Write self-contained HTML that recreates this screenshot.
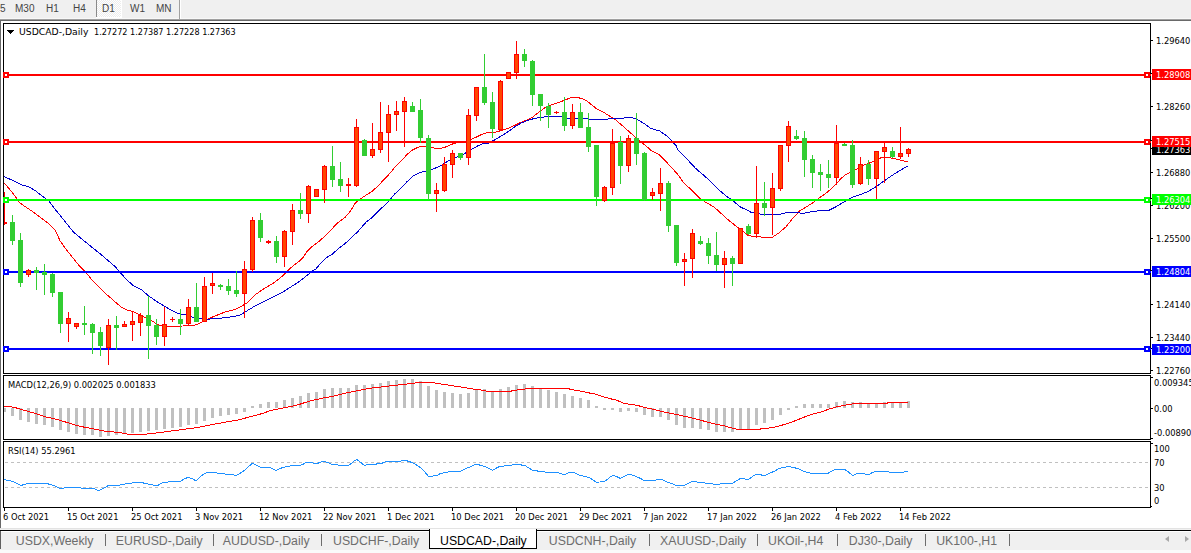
<!DOCTYPE html>
<html><head><meta charset="utf-8"><title>USDCAD-,Daily</title>
<style>
html,body{margin:0;padding:0;}
body{width:1191px;height:553px;overflow:hidden;background:#f0f0f0;position:relative;font-family:'Liberation Sans', Arial, sans-serif;}
.tb{position:absolute;left:0;top:0;width:1191px;height:18px;background:#f0f0f0;z-index:2;}
.tb span{position:absolute;top:3px;font-size:10px;color:#444;line-height:12px;}
.win{position:absolute;left:0;top:18px;width:1191px;height:512px;background:#fff;}
.tabs{position:absolute;left:0;top:530px;width:1191px;height:23px;}
.tab{position:absolute;top:3px;font-size:12.3px;color:#6d6d6d;line-height:16px;white-space:nowrap;}
.sep{position:absolute;top:534px;width:1px;height:12px;background:#6d6d6d;}
svg{position:absolute;left:0;top:0;}
</style></head><body>
<div class="tb">
<span style="left:0px">5</span><span style="left:15px">M30</span><span style="left:46px">H1</span><span style="left:73px">H4</span>
<div style="position:absolute;left:96px;top:0;width:1px;height:17px;background:#8a8a8a;"></div><div style="position:absolute;left:97px;top:0;width:24px;height:17px;background:repeating-conic-gradient(#fff 0 25%,#ececec 0 50%) 0 0/2px 2px;"></div><div style="position:absolute;left:121px;top:0;width:1px;height:18px;background:#fff;"></div><div style="position:absolute;left:96px;top:17px;width:26px;height:1px;background:#fff;"></div>
<span style="left:102px">D1</span><span style="left:130px">W1</span><span style="left:156px">MN</span>
<div style="position:absolute;left:179px;top:0;width:1px;height:19px;background:#a0a0a0;"></div><div style="position:absolute;left:180px;top:0;width:1px;height:19px;background:#fff;"></div>
</div>
<div style="position:absolute;left:0;top:18px;width:1191px;height:1px;background:#f8f8f8"></div>
<div style="position:absolute;left:0;top:19px;width:1191px;height:1px;background:#a0a0a0"></div>
<div style="position:absolute;left:0;top:20px;width:1191px;height:1px;background:#696969"></div>
<div style="position:absolute;left:0;top:21px;width:1191px;height:508px;background:#fff"></div>
<div style="position:absolute;left:0;top:20px;width:1px;height:508px;background:#696969"></div>
<div style="position:absolute;left:0;top:528px;width:1191px;height:1px;background:#e3e3e3"></div>
<div style="position:absolute;left:0;top:529px;width:1191px;height:1px;background:#f0f0f0"></div>
<div style="position:absolute;left:0;top:530px;width:1191px;height:1px;background:#000"></div>
<div style="position:absolute;left:0;top:531px;width:1191px;height:1px;background:#fff"></div>
<div style="position:absolute;left:0;top:532px;width:1191px;height:18px;background:#f0f0f0"></div>
<div style="position:absolute;left:0;top:550px;width:1191px;height:3px;background:#fafafa"></div>
<div style="position:absolute;left:0;top:531px;width:1px;height:18px;background:#606060"></div>
<div style="position:absolute;left:429px;top:529px;width:106px;height:19px;background:#fff;border-left:1px solid #000;border-right:1px solid #000;border-bottom:1px solid #000;"></div>
<div class="tab" style="left:15.8px;top:533px;color:#6d6d6d">USDX,Weekly</div>
<div class="tab" style="left:115.8px;top:533px;color:#6d6d6d">EURUSD-,Daily</div>
<div class="tab" style="left:222.8px;top:533px;color:#6d6d6d">AUDUSD-,Daily</div>
<div class="tab" style="left:333.0px;top:533px;color:#6d6d6d">USDCHF-,Daily</div>
<div class="tab" style="left:440.0px;top:533px;color:#000">USDCAD-,Daily</div>
<div class="tab" style="left:548.8px;top:533px;color:#6d6d6d">USDCNH-,Daily</div>
<div class="tab" style="left:660.0px;top:533px;color:#6d6d6d">XAUUSD-,Daily</div>
<div class="tab" style="left:768.0px;top:533px;color:#6d6d6d">UKOil-,H4</div>
<div class="tab" style="left:848.8px;top:533px;color:#6d6d6d">DJ30-,Daily</div>
<div class="tab" style="left:936.2px;top:533px;color:#6d6d6d">UK100-,H1</div>
<div class="sep" style="left:105px"></div>
<div class="sep" style="left:213px"></div>
<div class="sep" style="left:321px"></div>
<div class="sep" style="left:649px"></div>
<div class="sep" style="left:757px"></div>
<div class="sep" style="left:837px"></div>
<div class="sep" style="left:925px"></div>
<div class="sep" style="left:1009px"></div>
<div style="position:absolute;left:1165px;top:536px;width:0;height:0;border-top:3.5px solid transparent;border-bottom:3.5px solid transparent;border-right:4px solid #a8a8a8"></div>
<div style="position:absolute;left:1185px;top:536px;width:0;height:0;border-top:3.5px solid transparent;border-bottom:3.5px solid transparent;border-left:4px solid #a8a8a8"></div>
<svg width="1191" height="553" viewBox="0 0 1191 553">
<clipPath id="cm"><rect x="4" y="24" width="1146" height="349"/></clipPath>
<clipPath id="cd"><rect x="4" y="376" width="1146" height="62"/></clipPath>
<clipPath id="cr"><rect x="4" y="442" width="1146" height="64"/></clipPath>
<g shape-rendering="crispEdges" fill="#000">
<rect x="3" y="23" width="1148" height="1"/>
<rect x="3" y="23" width="1" height="351"/>
<rect x="1150" y="23" width="1" height="351"/>
<rect x="3" y="373" width="1148" height="1"/>
<rect x="3" y="375" width="1148" height="1"/>
<rect x="3" y="375" width="1" height="65"/>
<rect x="1150" y="375" width="1" height="65"/>
<rect x="3" y="439" width="1148" height="1"/>
<rect x="3" y="441" width="1148" height="1"/>
<rect x="3" y="441" width="1" height="67"/>
<rect x="1150" y="441" width="1" height="67"/>
<rect x="3" y="507" width="1148" height="1"/>
</g>
<g clip-path="url(#cm)">
<polyline points="4.1,183.0 9.8,189.5 16.3,197.7 19.5,202.6 22.8,205.0 32.6,211.5 42.3,218.9 48.9,223.7 55.4,230.3 60.0,240.8 66.5,249.8 73.0,257.9 79.5,266.1 86.1,272.6 92.6,280.7 99.1,287.2 104.0,292.1 110.5,297.8 117.0,303.5 121.9,307.6 126.8,310.0 133.3,311.7 139.8,314.9 146.3,318.2 152.8,321.4 157.7,324.7 164.2,326.3 183.0,326.0 196.0,324.9 202.6,321.7 209.1,318.4 217.2,315.1 225.4,311.9 235.1,309.4 241.7,306.2 248.2,302.1 256.3,294.0 264.5,288.3 274.2,282.6 282.4,276.1 289.3,269.0 294.4,264.9 299.4,261.1 303.2,257.3 307.0,251.6 312.0,246.6 319.6,240.9 327.1,234.0 337.2,223.3 344.8,217.6 349.8,212.0 354.8,203.8 358.0,200.5 365.6,195.4 371.9,191.4 378.2,186.0 383.2,180.3 388.2,175.3 394.5,167.7 400.8,161.4 407.1,154.5 412.2,150.1 417.2,147.6 421.0,146.3 426.0,146.3 431.0,146.9 434.8,148.2 440.6,148.4 445.6,147.0 450.7,144.6 455.7,143.0 459.5,142.4 465.8,141.7 470.8,139.6 475.9,137.3 480.9,134.8 485.9,132.9 493.5,132.9 498.5,131.3 504.4,129.7 512.6,126.4 519.1,123.2 527.2,119.9 532.1,117.5 540.0,111.4 545.0,107.6 552.6,104.4 560.2,101.9 565.2,100.0 571.5,97.3 576.5,97.3 581.6,98.5 586.6,100.7 590.4,103.8 596.7,108.9 603.0,112.0 609.3,115.8 616.1,120.2 622.6,125.9 629.1,131.6 635.6,137.3 640.5,141.4 645.4,145.5 651.4,150.6 659.0,154.4 664.0,159.4 671.6,167.6 677.9,174.6 684.2,183.4 689.2,187.8 695.5,194.1 700.5,199.1 706.8,202.9 714.4,207.3 720.7,213.0 727.0,219.0 728.9,220.4 737.0,226.9 743.5,231.8 748.4,235.8 754.9,236.3 761.4,237.0 772.8,237.0 779.3,232.6 785.9,226.9 792.4,218.7 799.5,211.1 806.1,207.0 812.6,202.9 819.1,198.0 827.2,192.3 833.7,186.6 840.3,179.3 845.1,174.8 851.7,172.0 856.5,169.2 863.1,165.5 869.6,163.0 874.5,160.6 881.0,157.8 887.5,157.3 894.0,158.5 900.0,160.1 907.6,161.8" fill="none" stroke="#ff0000" stroke-width="1" shape-rendering="crispEdges"/>
<polyline points="4.1,176.5 14.7,181.4 21.2,184.7 29.3,187.1 35.0,190.4 42.3,196.1 48.9,200.9 53.7,207.5 60.3,215.6 66.8,223.7 73.3,231.9 82.5,239.6 91.0,246.5 99.2,253.0 107.4,260.0 115.4,266.9 120.3,272.6 126.8,279.9 133.3,285.6 141.4,289.7 148.0,295.4 156.1,301.1 164.2,306.0 172.4,310.8 178.0,313.5 186.3,315.1 196.0,318.4 207.5,319.2 218.9,318.4 231.9,316.8 240.0,315.1 246.5,311.1 254.7,306.2 264.5,301.3 274.2,296.4 282.4,292.3 290.0,287.5 300.0,281.0 312.5,271.0 315.8,269.0 320.8,263.0 327.1,257.3 332.2,254.2 337.2,249.7 343.5,244.7 347.3,241.6 352.3,236.5 357.4,232.1 366.2,222.0 371.2,218.3 377.5,212.0 380.7,209.0 388.2,201.7 394.5,194.2 400.8,188.5 407.1,181.6 413.4,175.9 419.7,172.5 426.0,170.9 431.0,170.0 436.1,167.7 440.0,166.2 448.2,161.0 455.7,157.5 464.5,153.7 470.8,149.9 478.4,145.5 484.7,143.0 488.5,143.0 494.8,139.9 501.1,136.1 510.0,130.4 514.2,127.2 520.7,123.2 528.9,119.9 535.4,118.3 547.6,116.4 558.9,116.4 569.0,118.3 577.8,118.9 606.8,119.2 610.5,118.3 623.1,118.3 626.9,117.4 630.7,117.4 634.5,118.3 639.5,120.8 644.5,123.7 650.8,128.4 655.9,130.0 659.6,130.9 666.0,135.3 671.0,140.3 676.0,145.4 677.9,150.0 682.9,155.0 687.9,160.1 695.5,168.3 704.3,175.8 711.9,182.7 719.4,190.3 727.0,196.6 733.3,201.0 740.8,207.3 745.1,209.0 751.7,212.6 761.4,214.2 771.2,214.2 780.5,214.1 786.5,212.7 796.3,212.2 802.8,213.5 807.7,212.4 815.8,211.1 828.9,210.3 837.0,206.2 845.1,201.3 851.7,197.6 859.8,194.8 867.9,191.5 876.1,186.6 884.2,180.9 892.4,175.2 900.0,170.4 907.6,166.2" fill="none" stroke="#0000cd" stroke-width="1" shape-rendering="crispEdges"/>
</g>
<rect x="4" y="74" width="1147" height="2" fill="#ff0000" shape-rendering="crispEdges"/>
<rect x="4" y="141" width="1147" height="2" fill="#ff0000" shape-rendering="crispEdges"/>
<rect x="4" y="199" width="1147" height="2" fill="#00ff00" shape-rendering="crispEdges"/>
<rect x="4" y="271" width="1147" height="2" fill="#0000ff" shape-rendering="crispEdges"/>
<rect x="4" y="348" width="1147" height="2" fill="#0000ff" shape-rendering="crispEdges"/>
<g shape-rendering="crispEdges" clip-path="url(#cm)">
<rect x="4" y="192" width="1" height="33" fill="#ff0000"/>
<rect x="2" y="222" width="5" height="2" fill="#ff0000"/>
<rect x="12" y="215" width="1" height="30" fill="#32cd32"/>
<rect x="10" y="222" width="5" height="19" fill="#32cd32"/>
<rect x="20" y="233" width="1" height="54" fill="#32cd32"/>
<rect x="18" y="240" width="5" height="43" fill="#32cd32"/>
<rect x="28" y="269" width="1" height="8" fill="#ff0000"/>
<rect x="26" y="270" width="5" height="5" fill="#ff0000"/>
<rect x="27" y="271" width="3" height="3" fill="#ff4500"/>
<rect x="36" y="267" width="1" height="23" fill="#32cd32"/>
<rect x="34" y="270" width="5" height="3" fill="#32cd32"/>
<rect x="44" y="264" width="1" height="31" fill="#32cd32"/>
<rect x="42" y="272" width="5" height="3" fill="#32cd32"/>
<rect x="52" y="273" width="1" height="24" fill="#32cd32"/>
<rect x="50" y="274" width="5" height="19" fill="#32cd32"/>
<rect x="60" y="292" width="1" height="41" fill="#32cd32"/>
<rect x="58" y="292" width="5" height="32" fill="#32cd32"/>
<rect x="68" y="312" width="1" height="30" fill="#ff0000"/>
<rect x="66" y="318" width="5" height="6" fill="#ff0000"/>
<rect x="67" y="319" width="3" height="4" fill="#ff4500"/>
<rect x="76" y="323" width="1" height="6" fill="#ff0000"/>
<rect x="74" y="323" width="5" height="4" fill="#ff0000"/>
<rect x="75" y="324" width="3" height="2" fill="#ff4500"/>
<rect x="84" y="306" width="1" height="29" fill="#32cd32"/>
<rect x="82" y="323" width="5" height="2" fill="#32cd32"/>
<rect x="92" y="323" width="1" height="31" fill="#32cd32"/>
<rect x="90" y="324" width="5" height="9" fill="#32cd32"/>
<rect x="100" y="327" width="1" height="29" fill="#32cd32"/>
<rect x="98" y="332" width="5" height="14" fill="#32cd32"/>
<rect x="108" y="319" width="1" height="46" fill="#ff0000"/>
<rect x="106" y="325" width="5" height="23" fill="#ff0000"/>
<rect x="107" y="326" width="3" height="21" fill="#ff4500"/>
<rect x="116" y="316" width="1" height="34" fill="#32cd32"/>
<rect x="114" y="325" width="5" height="3" fill="#32cd32"/>
<rect x="124" y="321" width="1" height="6" fill="#ff0000"/>
<rect x="122" y="324" width="5" height="3" fill="#ff0000"/>
<rect x="123" y="325" width="3" height="1" fill="#ff4500"/>
<rect x="132" y="311" width="1" height="30" fill="#ff0000"/>
<rect x="130" y="321" width="5" height="4" fill="#ff0000"/>
<rect x="131" y="322" width="3" height="2" fill="#ff4500"/>
<rect x="140" y="313" width="1" height="23" fill="#ff0000"/>
<rect x="138" y="315" width="5" height="8" fill="#ff0000"/>
<rect x="139" y="316" width="3" height="6" fill="#ff4500"/>
<rect x="148" y="296" width="1" height="63" fill="#32cd32"/>
<rect x="146" y="315" width="5" height="11" fill="#32cd32"/>
<rect x="156" y="319" width="1" height="26" fill="#32cd32"/>
<rect x="154" y="325" width="5" height="12" fill="#32cd32"/>
<rect x="164" y="307" width="1" height="39" fill="#ff0000"/>
<rect x="162" y="324" width="5" height="13" fill="#ff0000"/>
<rect x="163" y="325" width="3" height="11" fill="#ff4500"/>
<rect x="172" y="317" width="1" height="5" fill="#ff0000"/>
<rect x="170" y="319" width="5" height="1" fill="#ff0000"/>
<rect x="180" y="309" width="1" height="26" fill="#32cd32"/>
<rect x="178" y="319" width="5" height="5" fill="#32cd32"/>
<rect x="188" y="299" width="1" height="26" fill="#ff0000"/>
<rect x="186" y="307" width="5" height="17" fill="#ff0000"/>
<rect x="187" y="308" width="3" height="15" fill="#ff4500"/>
<rect x="196" y="283" width="1" height="39" fill="#32cd32"/>
<rect x="194" y="307" width="5" height="15" fill="#32cd32"/>
<rect x="204" y="277" width="1" height="45" fill="#ff0000"/>
<rect x="202" y="286" width="5" height="36" fill="#ff0000"/>
<rect x="203" y="287" width="3" height="34" fill="#ff4500"/>
<rect x="212" y="273" width="1" height="21" fill="#ff0000"/>
<rect x="210" y="283" width="5" height="3" fill="#ff0000"/>
<rect x="211" y="284" width="3" height="1" fill="#ff4500"/>
<rect x="220" y="284" width="1" height="6" fill="#32cd32"/>
<rect x="218" y="285" width="5" height="2" fill="#32cd32"/>
<rect x="228" y="279" width="1" height="16" fill="#32cd32"/>
<rect x="226" y="286" width="5" height="5" fill="#32cd32"/>
<rect x="236" y="271" width="1" height="26" fill="#32cd32"/>
<rect x="234" y="290" width="5" height="4" fill="#32cd32"/>
<rect x="244" y="261" width="1" height="57" fill="#ff0000"/>
<rect x="242" y="269" width="5" height="25" fill="#ff0000"/>
<rect x="243" y="270" width="3" height="23" fill="#ff4500"/>
<rect x="252" y="217" width="1" height="55" fill="#ff0000"/>
<rect x="250" y="220" width="5" height="50" fill="#ff0000"/>
<rect x="251" y="221" width="3" height="48" fill="#ff4500"/>
<rect x="260" y="213" width="1" height="29" fill="#32cd32"/>
<rect x="258" y="220" width="5" height="18" fill="#32cd32"/>
<rect x="268" y="240" width="1" height="4" fill="#ff0000"/>
<rect x="266" y="241" width="5" height="2" fill="#ff0000"/>
<rect x="276" y="236" width="1" height="27" fill="#32cd32"/>
<rect x="274" y="241" width="5" height="16" fill="#32cd32"/>
<rect x="284" y="230" width="1" height="37" fill="#ff0000"/>
<rect x="282" y="231" width="5" height="26" fill="#ff0000"/>
<rect x="283" y="232" width="3" height="24" fill="#ff4500"/>
<rect x="292" y="204" width="1" height="41" fill="#ff0000"/>
<rect x="290" y="210" width="5" height="22" fill="#ff0000"/>
<rect x="291" y="211" width="3" height="20" fill="#ff4500"/>
<rect x="300" y="193" width="1" height="26" fill="#32cd32"/>
<rect x="298" y="210" width="5" height="4" fill="#32cd32"/>
<rect x="308" y="185" width="1" height="38" fill="#ff0000"/>
<rect x="306" y="186" width="5" height="28" fill="#ff0000"/>
<rect x="307" y="187" width="3" height="26" fill="#ff4500"/>
<rect x="316" y="189" width="1" height="8" fill="#ff0000"/>
<rect x="314" y="189" width="5" height="8" fill="#ff0000"/>
<rect x="315" y="190" width="3" height="6" fill="#ff4500"/>
<rect x="324" y="165" width="1" height="38" fill="#ff0000"/>
<rect x="322" y="166" width="5" height="24" fill="#ff0000"/>
<rect x="323" y="167" width="3" height="22" fill="#ff4500"/>
<rect x="332" y="146" width="1" height="41" fill="#32cd32"/>
<rect x="330" y="166" width="5" height="14" fill="#32cd32"/>
<rect x="340" y="162" width="1" height="30" fill="#32cd32"/>
<rect x="338" y="179" width="5" height="7" fill="#32cd32"/>
<rect x="348" y="178" width="1" height="19" fill="#ff0000"/>
<rect x="346" y="184" width="5" height="2" fill="#ff0000"/>
<rect x="356" y="119" width="1" height="68" fill="#ff0000"/>
<rect x="354" y="127" width="5" height="59" fill="#ff0000"/>
<rect x="355" y="128" width="3" height="57" fill="#ff4500"/>
<rect x="364" y="139" width="1" height="17" fill="#32cd32"/>
<rect x="362" y="140" width="5" height="16" fill="#32cd32"/>
<rect x="372" y="123" width="1" height="35" fill="#ff0000"/>
<rect x="370" y="149" width="5" height="7" fill="#ff0000"/>
<rect x="371" y="150" width="3" height="5" fill="#ff4500"/>
<rect x="380" y="102" width="1" height="51" fill="#ff0000"/>
<rect x="378" y="132" width="5" height="18" fill="#ff0000"/>
<rect x="379" y="133" width="3" height="16" fill="#ff4500"/>
<rect x="388" y="105" width="1" height="57" fill="#ff0000"/>
<rect x="386" y="114" width="5" height="19" fill="#ff0000"/>
<rect x="387" y="115" width="3" height="17" fill="#ff4500"/>
<rect x="396" y="101" width="1" height="30" fill="#ff0000"/>
<rect x="394" y="111" width="5" height="4" fill="#ff0000"/>
<rect x="395" y="112" width="3" height="2" fill="#ff4500"/>
<rect x="404" y="97" width="1" height="50" fill="#ff0000"/>
<rect x="402" y="101" width="5" height="11" fill="#ff0000"/>
<rect x="403" y="102" width="3" height="9" fill="#ff4500"/>
<rect x="412" y="102" width="1" height="10" fill="#32cd32"/>
<rect x="410" y="106" width="5" height="6" fill="#32cd32"/>
<rect x="420" y="99" width="1" height="44" fill="#32cd32"/>
<rect x="418" y="110" width="5" height="28" fill="#32cd32"/>
<rect x="428" y="135" width="1" height="65" fill="#32cd32"/>
<rect x="426" y="138" width="5" height="56" fill="#32cd32"/>
<rect x="436" y="183" width="1" height="29" fill="#ff0000"/>
<rect x="434" y="190" width="5" height="4" fill="#ff0000"/>
<rect x="435" y="191" width="3" height="2" fill="#ff4500"/>
<rect x="444" y="157" width="1" height="35" fill="#ff0000"/>
<rect x="442" y="164" width="5" height="27" fill="#ff0000"/>
<rect x="443" y="165" width="3" height="25" fill="#ff4500"/>
<rect x="452" y="150" width="1" height="28" fill="#ff0000"/>
<rect x="450" y="153" width="5" height="12" fill="#ff0000"/>
<rect x="451" y="154" width="3" height="10" fill="#ff4500"/>
<rect x="460" y="153" width="1" height="7" fill="#32cd32"/>
<rect x="458" y="153" width="5" height="5" fill="#32cd32"/>
<rect x="468" y="109" width="1" height="56" fill="#ff0000"/>
<rect x="466" y="115" width="5" height="43" fill="#ff0000"/>
<rect x="467" y="116" width="3" height="41" fill="#ff4500"/>
<rect x="476" y="87" width="1" height="34" fill="#ff0000"/>
<rect x="474" y="87" width="5" height="29" fill="#ff0000"/>
<rect x="475" y="88" width="3" height="27" fill="#ff4500"/>
<rect x="484" y="54" width="1" height="51" fill="#32cd32"/>
<rect x="482" y="87" width="5" height="16" fill="#32cd32"/>
<rect x="492" y="92" width="1" height="46" fill="#32cd32"/>
<rect x="490" y="102" width="5" height="27" fill="#32cd32"/>
<rect x="500" y="80" width="1" height="51" fill="#ff0000"/>
<rect x="498" y="81" width="5" height="49" fill="#ff0000"/>
<rect x="499" y="82" width="3" height="47" fill="#ff4500"/>
<rect x="508" y="72" width="1" height="7" fill="#ff0000"/>
<rect x="506" y="72" width="5" height="7" fill="#ff0000"/>
<rect x="507" y="73" width="3" height="5" fill="#ff4500"/>
<rect x="516" y="41" width="1" height="38" fill="#ff0000"/>
<rect x="514" y="54" width="5" height="19" fill="#ff0000"/>
<rect x="515" y="55" width="3" height="17" fill="#ff4500"/>
<rect x="524" y="49" width="1" height="18" fill="#32cd32"/>
<rect x="522" y="54" width="5" height="7" fill="#32cd32"/>
<rect x="532" y="60" width="1" height="46" fill="#32cd32"/>
<rect x="530" y="61" width="5" height="34" fill="#32cd32"/>
<rect x="540" y="94" width="1" height="27" fill="#32cd32"/>
<rect x="538" y="94" width="5" height="12" fill="#32cd32"/>
<rect x="548" y="103" width="1" height="25" fill="#32cd32"/>
<rect x="546" y="106" width="5" height="9" fill="#32cd32"/>
<rect x="556" y="111" width="1" height="3" fill="#ff0000"/>
<rect x="554" y="112" width="5" height="1" fill="#ff0000"/>
<rect x="564" y="97" width="1" height="34" fill="#32cd32"/>
<rect x="562" y="112" width="5" height="14" fill="#32cd32"/>
<rect x="572" y="104" width="1" height="25" fill="#ff0000"/>
<rect x="570" y="112" width="5" height="14" fill="#ff0000"/>
<rect x="571" y="113" width="3" height="12" fill="#ff4500"/>
<rect x="580" y="103" width="1" height="25" fill="#32cd32"/>
<rect x="578" y="112" width="5" height="16" fill="#32cd32"/>
<rect x="588" y="113" width="1" height="39" fill="#32cd32"/>
<rect x="586" y="127" width="5" height="20" fill="#32cd32"/>
<rect x="596" y="145" width="1" height="61" fill="#32cd32"/>
<rect x="594" y="145" width="5" height="52" fill="#32cd32"/>
<rect x="604" y="186" width="1" height="16" fill="#ff0000"/>
<rect x="602" y="187" width="5" height="14" fill="#ff0000"/>
<rect x="603" y="188" width="3" height="12" fill="#ff4500"/>
<rect x="612" y="129" width="1" height="66" fill="#ff0000"/>
<rect x="610" y="143" width="5" height="45" fill="#ff0000"/>
<rect x="611" y="144" width="3" height="43" fill="#ff4500"/>
<rect x="620" y="136" width="1" height="48" fill="#32cd32"/>
<rect x="618" y="142" width="5" height="24" fill="#32cd32"/>
<rect x="628" y="135" width="1" height="37" fill="#ff0000"/>
<rect x="626" y="138" width="5" height="28" fill="#ff0000"/>
<rect x="627" y="139" width="3" height="26" fill="#ff4500"/>
<rect x="636" y="113" width="1" height="52" fill="#32cd32"/>
<rect x="634" y="138" width="5" height="16" fill="#32cd32"/>
<rect x="644" y="152" width="1" height="49" fill="#32cd32"/>
<rect x="642" y="153" width="5" height="47" fill="#32cd32"/>
<rect x="652" y="188" width="1" height="12" fill="#ff0000"/>
<rect x="650" y="192" width="5" height="4" fill="#ff0000"/>
<rect x="651" y="193" width="3" height="2" fill="#ff4500"/>
<rect x="660" y="168" width="1" height="43" fill="#ff0000"/>
<rect x="658" y="183" width="5" height="11" fill="#ff0000"/>
<rect x="659" y="184" width="3" height="9" fill="#ff4500"/>
<rect x="668" y="181" width="1" height="51" fill="#32cd32"/>
<rect x="666" y="183" width="5" height="43" fill="#32cd32"/>
<rect x="676" y="225" width="1" height="41" fill="#32cd32"/>
<rect x="674" y="225" width="5" height="38" fill="#32cd32"/>
<rect x="684" y="253" width="1" height="33" fill="#ff0000"/>
<rect x="682" y="259" width="5" height="3" fill="#ff0000"/>
<rect x="683" y="260" width="3" height="1" fill="#ff4500"/>
<rect x="692" y="229" width="1" height="49" fill="#ff0000"/>
<rect x="690" y="233" width="5" height="26" fill="#ff0000"/>
<rect x="691" y="234" width="3" height="24" fill="#ff4500"/>
<rect x="700" y="236" width="1" height="9" fill="#32cd32"/>
<rect x="698" y="241" width="5" height="3" fill="#32cd32"/>
<rect x="708" y="238" width="1" height="26" fill="#32cd32"/>
<rect x="706" y="243" width="5" height="13" fill="#32cd32"/>
<rect x="716" y="232" width="1" height="39" fill="#32cd32"/>
<rect x="714" y="255" width="5" height="10" fill="#32cd32"/>
<rect x="724" y="251" width="1" height="37" fill="#ff0000"/>
<rect x="722" y="258" width="5" height="7" fill="#ff0000"/>
<rect x="723" y="259" width="3" height="5" fill="#ff4500"/>
<rect x="732" y="256" width="1" height="30" fill="#32cd32"/>
<rect x="730" y="258" width="5" height="6" fill="#32cd32"/>
<rect x="740" y="228" width="1" height="36" fill="#ff0000"/>
<rect x="738" y="228" width="5" height="36" fill="#ff0000"/>
<rect x="739" y="229" width="3" height="34" fill="#ff4500"/>
<rect x="748" y="224" width="1" height="11" fill="#32cd32"/>
<rect x="746" y="226" width="5" height="8" fill="#32cd32"/>
<rect x="756" y="166" width="1" height="72" fill="#ff0000"/>
<rect x="754" y="203" width="5" height="31" fill="#ff0000"/>
<rect x="755" y="204" width="3" height="29" fill="#ff4500"/>
<rect x="764" y="182" width="1" height="34" fill="#32cd32"/>
<rect x="762" y="203" width="5" height="5" fill="#32cd32"/>
<rect x="772" y="173" width="1" height="62" fill="#ff0000"/>
<rect x="770" y="188" width="5" height="20" fill="#ff0000"/>
<rect x="771" y="189" width="3" height="18" fill="#ff4500"/>
<rect x="780" y="145" width="1" height="46" fill="#ff0000"/>
<rect x="778" y="145" width="5" height="44" fill="#ff0000"/>
<rect x="779" y="146" width="3" height="42" fill="#ff4500"/>
<rect x="788" y="121" width="1" height="41" fill="#ff0000"/>
<rect x="786" y="126" width="5" height="20" fill="#ff0000"/>
<rect x="787" y="127" width="3" height="18" fill="#ff4500"/>
<rect x="796" y="130" width="1" height="10" fill="#32cd32"/>
<rect x="794" y="136" width="5" height="3" fill="#32cd32"/>
<rect x="804" y="131" width="1" height="46" fill="#32cd32"/>
<rect x="802" y="138" width="5" height="22" fill="#32cd32"/>
<rect x="812" y="155" width="1" height="33" fill="#32cd32"/>
<rect x="810" y="159" width="5" height="14" fill="#32cd32"/>
<rect x="820" y="164" width="1" height="27" fill="#32cd32"/>
<rect x="818" y="172" width="5" height="3" fill="#32cd32"/>
<rect x="828" y="160" width="1" height="28" fill="#32cd32"/>
<rect x="826" y="174" width="5" height="4" fill="#32cd32"/>
<rect x="836" y="125" width="1" height="60" fill="#ff0000"/>
<rect x="834" y="143" width="5" height="35" fill="#ff0000"/>
<rect x="835" y="144" width="3" height="33" fill="#ff4500"/>
<rect x="844" y="143" width="1" height="3" fill="#32cd32"/>
<rect x="842" y="144" width="5" height="2" fill="#32cd32"/>
<rect x="852" y="140" width="1" height="48" fill="#32cd32"/>
<rect x="850" y="145" width="5" height="40" fill="#32cd32"/>
<rect x="860" y="157" width="1" height="28" fill="#ff0000"/>
<rect x="858" y="164" width="5" height="20" fill="#ff0000"/>
<rect x="859" y="165" width="3" height="18" fill="#ff4500"/>
<rect x="868" y="160" width="1" height="25" fill="#32cd32"/>
<rect x="866" y="164" width="5" height="15" fill="#32cd32"/>
<rect x="876" y="151" width="1" height="48" fill="#ff0000"/>
<rect x="874" y="151" width="5" height="28" fill="#ff0000"/>
<rect x="875" y="152" width="3" height="26" fill="#ff4500"/>
<rect x="884" y="143" width="1" height="40" fill="#ff0000"/>
<rect x="882" y="147" width="5" height="5" fill="#ff0000"/>
<rect x="883" y="148" width="3" height="3" fill="#ff4500"/>
<rect x="892" y="147" width="1" height="11" fill="#32cd32"/>
<rect x="890" y="151" width="5" height="6" fill="#32cd32"/>
<rect x="900" y="127" width="1" height="32" fill="#ff0000"/>
<rect x="898" y="153" width="5" height="4" fill="#ff0000"/>
<rect x="899" y="154" width="3" height="2" fill="#ff4500"/>
<rect x="908" y="148" width="1" height="9" fill="#ff0000"/>
<rect x="906" y="149" width="5" height="5" fill="#ff0000"/>
<rect x="907" y="150" width="3" height="3" fill="#ff4500"/>
</g>
<g shape-rendering="crispEdges">
<rect x="3" y="72" width="6" height="6" fill="#ff0000"/>
<rect x="5" y="74" width="2" height="2" fill="#fff"/>
<rect x="1144" y="72" width="6" height="6" fill="#ff0000"/>
<rect x="1146" y="74" width="2" height="2" fill="#fff"/>
<rect x="3" y="139" width="6" height="6" fill="#ff0000"/>
<rect x="5" y="141" width="2" height="2" fill="#fff"/>
<rect x="1144" y="139" width="6" height="6" fill="#ff0000"/>
<rect x="1146" y="141" width="2" height="2" fill="#fff"/>
<rect x="3" y="197" width="6" height="6" fill="#00ff00"/>
<rect x="5" y="199" width="2" height="2" fill="#fff"/>
<rect x="1144" y="197" width="6" height="6" fill="#00ff00"/>
<rect x="1146" y="199" width="2" height="2" fill="#fff"/>
<rect x="3" y="269" width="6" height="6" fill="#0000ff"/>
<rect x="5" y="271" width="2" height="2" fill="#fff"/>
<rect x="1144" y="269" width="6" height="6" fill="#0000ff"/>
<rect x="1146" y="271" width="2" height="2" fill="#fff"/>
<rect x="3" y="346" width="6" height="6" fill="#0000ff"/>
<rect x="5" y="348" width="2" height="2" fill="#fff"/>
<rect x="1144" y="346" width="6" height="6" fill="#0000ff"/>
<rect x="1146" y="348" width="2" height="2" fill="#fff"/>
</g>
<g shape-rendering="crispEdges">
<rect x="3" y="72" width="6" height="6" fill="#ff0000"/>
<rect x="5" y="74" width="2" height="2" fill="#fff"/>
<rect x="3" y="139" width="6" height="6" fill="#ff0000"/>
<rect x="5" y="141" width="2" height="2" fill="#fff"/>
<rect x="3" y="197" width="6" height="6" fill="#00ff00"/>
<rect x="5" y="199" width="2" height="2" fill="#fff"/>
<rect x="3" y="269" width="6" height="6" fill="#0000ff"/>
<rect x="5" y="271" width="2" height="2" fill="#fff"/>
<rect x="3" y="346" width="6" height="6" fill="#0000ff"/>
<rect x="5" y="348" width="2" height="2" fill="#fff"/>
</g>
<g shape-rendering="crispEdges" fill="#000">
<rect x="1151" y="40" width="2" height="1"/>
<rect x="1151" y="106" width="2" height="1"/>
<rect x="1151" y="172" width="2" height="1"/>
<rect x="1151" y="238" width="2" height="1"/>
<rect x="1151" y="304" width="2" height="1"/>
<rect x="1151" y="337" width="2" height="1"/>
<rect x="1151" y="370" width="2" height="1"/>
</g>
<text x="1156" y="44" style="font-family:'DejaVu Sans Condensed', 'DejaVu Sans', sans-serif;font-size:9.25px" fill="#000">1.29640</text>
<text x="1156" y="110" style="font-family:'DejaVu Sans Condensed', 'DejaVu Sans', sans-serif;font-size:9.25px" fill="#000">1.28260</text>
<text x="1156" y="176" style="font-family:'DejaVu Sans Condensed', 'DejaVu Sans', sans-serif;font-size:9.25px" fill="#000">1.26880</text>
<text x="1156" y="242" style="font-family:'DejaVu Sans Condensed', 'DejaVu Sans', sans-serif;font-size:9.25px" fill="#000">1.25500</text>
<text x="1156" y="308" style="font-family:'DejaVu Sans Condensed', 'DejaVu Sans', sans-serif;font-size:9.25px" fill="#000">1.24140</text>
<text x="1156" y="341" style="font-family:'DejaVu Sans Condensed', 'DejaVu Sans', sans-serif;font-size:9.25px" fill="#000">1.23440</text>
<text x="1156" y="374" style="font-family:'DejaVu Sans Condensed', 'DejaVu Sans', sans-serif;font-size:9.25px" fill="#000">1.22760</text>
<text x="1156" y="209" style="font-family:'DejaVu Sans Condensed', 'DejaVu Sans', sans-serif;font-size:9.25px" fill="#000">1.26200</text>
<rect x="1151" y="205" width="2" height="1" fill="#000" shape-rendering="crispEdges"/>
<rect x="1151" y="73" width="2" height="1" fill="#000" shape-rendering="crispEdges"/>
<rect x="1152" y="69" width="39" height="11" fill="#ff0000" shape-rendering="crispEdges"/>
<text x="1156" y="78" style="font-family:'DejaVu Sans Condensed', 'DejaVu Sans', sans-serif;font-size:9.25px" fill="#fff">1.28908</text>
<rect x="1151" y="148" width="2" height="1" fill="#000" shape-rendering="crispEdges"/>
<rect x="1152" y="144" width="39" height="11" fill="#000000" shape-rendering="crispEdges"/>
<text x="1156" y="153" style="font-family:'DejaVu Sans Condensed', 'DejaVu Sans', sans-serif;font-size:9.25px" fill="#fff">1.27363</text>
<rect x="1151" y="140" width="2" height="1" fill="#000" shape-rendering="crispEdges"/>
<rect x="1152" y="136" width="39" height="11" fill="#ff0000" shape-rendering="crispEdges"/>
<text x="1156" y="145" style="font-family:'DejaVu Sans Condensed', 'DejaVu Sans', sans-serif;font-size:9.25px" fill="#fff">1.27515</text>
<rect x="1151" y="198" width="2" height="1" fill="#000" shape-rendering="crispEdges"/>
<rect x="1152" y="194" width="39" height="11" fill="#00ff00" shape-rendering="crispEdges"/>
<text x="1156" y="203" style="font-family:'DejaVu Sans Condensed', 'DejaVu Sans', sans-serif;font-size:9.25px" fill="#fff">1.26304</text>
<rect x="1151" y="270" width="2" height="1" fill="#000" shape-rendering="crispEdges"/>
<rect x="1152" y="266" width="39" height="11" fill="#0000ff" shape-rendering="crispEdges"/>
<text x="1156" y="275" style="font-family:'DejaVu Sans Condensed', 'DejaVu Sans', sans-serif;font-size:9.25px" fill="#fff">1.24804</text>
<rect x="1151" y="348" width="2" height="1" fill="#000" shape-rendering="crispEdges"/>
<rect x="1152" y="344" width="39" height="11" fill="#0000ff" shape-rendering="crispEdges"/>
<text x="1156" y="353" style="font-family:'DejaVu Sans Condensed', 'DejaVu Sans', sans-serif;font-size:9.25px" fill="#fff">1.23200</text>
<g clip-path="url(#cd)" shape-rendering="crispEdges" fill="#c0c0c0">
<rect x="3" y="408" width="3" height="4"/>
<rect x="11" y="408" width="3" height="8"/>
<rect x="19" y="408" width="3" height="12"/>
<rect x="27" y="408" width="3" height="14"/>
<rect x="35" y="408" width="3" height="16"/>
<rect x="43" y="408" width="3" height="17"/>
<rect x="51" y="408" width="3" height="19"/>
<rect x="59" y="408" width="3" height="22"/>
<rect x="67" y="408" width="3" height="24"/>
<rect x="75" y="408" width="3" height="26"/>
<rect x="83" y="408" width="3" height="27"/>
<rect x="91" y="408" width="3" height="27"/>
<rect x="99" y="408" width="3" height="29"/>
<rect x="107" y="408" width="3" height="28"/>
<rect x="115" y="408" width="3" height="27"/>
<rect x="123" y="408" width="3" height="25"/>
<rect x="131" y="408" width="3" height="25"/>
<rect x="139" y="408" width="3" height="24"/>
<rect x="147" y="408" width="3" height="23"/>
<rect x="155" y="408" width="3" height="22"/>
<rect x="163" y="408" width="3" height="21"/>
<rect x="171" y="408" width="3" height="20"/>
<rect x="179" y="408" width="3" height="19"/>
<rect x="187" y="408" width="3" height="17"/>
<rect x="195" y="408" width="3" height="16"/>
<rect x="203" y="408" width="3" height="13"/>
<rect x="211" y="408" width="3" height="10"/>
<rect x="219" y="408" width="3" height="8"/>
<rect x="227" y="408" width="3" height="7"/>
<rect x="235" y="408" width="3" height="6"/>
<rect x="243" y="408" width="3" height="4"/>
<rect x="251" y="406" width="3" height="2"/>
<rect x="259" y="404" width="3" height="4"/>
<rect x="267" y="402" width="3" height="6"/>
<rect x="275" y="402" width="3" height="6"/>
<rect x="283" y="400" width="3" height="8"/>
<rect x="291" y="398" width="3" height="10"/>
<rect x="299" y="396" width="3" height="12"/>
<rect x="307" y="393" width="3" height="15"/>
<rect x="315" y="392" width="3" height="16"/>
<rect x="323" y="389" width="3" height="19"/>
<rect x="331" y="388" width="3" height="20"/>
<rect x="339" y="388" width="3" height="20"/>
<rect x="347" y="388" width="3" height="20"/>
<rect x="355" y="385" width="3" height="23"/>
<rect x="363" y="385" width="3" height="23"/>
<rect x="371" y="384" width="3" height="24"/>
<rect x="379" y="383" width="3" height="25"/>
<rect x="387" y="381" width="3" height="27"/>
<rect x="395" y="380" width="3" height="28"/>
<rect x="403" y="379" width="3" height="29"/>
<rect x="411" y="379" width="3" height="29"/>
<rect x="419" y="381" width="3" height="27"/>
<rect x="427" y="386" width="3" height="22"/>
<rect x="435" y="390" width="3" height="18"/>
<rect x="443" y="392" width="3" height="16"/>
<rect x="451" y="393" width="3" height="15"/>
<rect x="459" y="394" width="3" height="14"/>
<rect x="467" y="393" width="3" height="15"/>
<rect x="475" y="390" width="3" height="18"/>
<rect x="483" y="389" width="3" height="19"/>
<rect x="491" y="391" width="3" height="17"/>
<rect x="499" y="389" width="3" height="19"/>
<rect x="507" y="387" width="3" height="21"/>
<rect x="515" y="385" width="3" height="23"/>
<rect x="523" y="384" width="3" height="24"/>
<rect x="531" y="386" width="3" height="22"/>
<rect x="539" y="389" width="3" height="19"/>
<rect x="547" y="390" width="3" height="18"/>
<rect x="555" y="392" width="3" height="16"/>
<rect x="563" y="394" width="3" height="14"/>
<rect x="571" y="396" width="3" height="12"/>
<rect x="579" y="398" width="3" height="10"/>
<rect x="587" y="400" width="3" height="8"/>
<rect x="595" y="406" width="3" height="2"/>
<rect x="603" y="408" width="3" height="2"/>
<rect x="611" y="408" width="3" height="2"/>
<rect x="619" y="408" width="3" height="4"/>
<rect x="627" y="408" width="3" height="3"/>
<rect x="635" y="408" width="3" height="4"/>
<rect x="643" y="408" width="3" height="7"/>
<rect x="651" y="408" width="3" height="9"/>
<rect x="659" y="408" width="3" height="9"/>
<rect x="667" y="408" width="3" height="12"/>
<rect x="675" y="408" width="3" height="17"/>
<rect x="683" y="408" width="3" height="20"/>
<rect x="691" y="408" width="3" height="20"/>
<rect x="699" y="408" width="3" height="21"/>
<rect x="707" y="408" width="3" height="22"/>
<rect x="715" y="408" width="3" height="24"/>
<rect x="723" y="408" width="3" height="24"/>
<rect x="731" y="408" width="3" height="24"/>
<rect x="739" y="408" width="3" height="21"/>
<rect x="747" y="408" width="3" height="21"/>
<rect x="755" y="408" width="3" height="17"/>
<rect x="763" y="408" width="3" height="15"/>
<rect x="771" y="408" width="3" height="12"/>
<rect x="779" y="408" width="3" height="7"/>
<rect x="787" y="408" width="3" height="2"/>
<rect x="795" y="406" width="3" height="2"/>
<rect x="803" y="404" width="3" height="4"/>
<rect x="811" y="404" width="3" height="4"/>
<rect x="819" y="404" width="3" height="4"/>
<rect x="827" y="404" width="3" height="4"/>
<rect x="835" y="402" width="3" height="6"/>
<rect x="843" y="401" width="3" height="7"/>
<rect x="851" y="402" width="3" height="6"/>
<rect x="859" y="402" width="3" height="6"/>
<rect x="867" y="403" width="3" height="5"/>
<rect x="875" y="403" width="3" height="5"/>
<rect x="883" y="402" width="3" height="6"/>
<rect x="891" y="403" width="3" height="5"/>
<rect x="899" y="403" width="3" height="5"/>
<rect x="907" y="401" width="3" height="7"/>
</g>
<g clip-path="url(#cd)"><polyline points="4.0,406.3 13.9,407.2 19.7,409.0 27.8,411.3 35.9,413.6 44.0,416.5 52.1,418.2 60.2,420.3 68.3,422.9 76.4,425.5 84.5,427.2 92.6,428.7 100.7,430.4 108.8,431.8 116.0,432.1 121.8,433.0 129.9,434.5 143.8,434.5 150.7,433.5 160.0,432.7 168.1,431.3 176.2,430.4 184.3,429.2 192.4,428.3 200.5,426.9 208.6,425.2 216.7,423.7 224.8,422.3 231.7,421.1 236.0,420.4 242.9,418.8 249.9,416.7 256.8,415.1 263.8,413.0 270.7,410.5 277.7,409.0 284.6,407.8 291.6,406.3 298.5,404.7 305.4,402.4 312.4,400.3 319.3,398.9 326.3,397.4 333.2,396.3 340.2,394.5 347.1,392.8 356.0,391.0 362.9,389.7 369.9,388.2 376.8,387.6 383.8,386.6 390.7,385.8 397.7,385.0 404.6,384.3 411.6,383.5 418.5,382.4 432.4,382.4 437.0,383.5 444.0,384.3 450.9,385.5 457.9,386.6 464.8,387.6 471.7,388.7 476.0,389.7 480.6,389.7 481.8,390.5 488.7,391.3 510.7,391.3 513.0,390.5 520.0,389.7 528.1,388.5 568.6,388.5 569.8,389.3 576.7,390.5 583.6,391.6 588.3,392.8 592.9,393.6 596.0,394.3 602.9,396.8 609.9,398.6 616.8,400.3 623.8,403.2 630.7,404.4 637.7,405.5 644.6,407.5 651.6,409.0 658.5,410.5 665.4,412.5 672.4,413.6 679.3,415.1 686.3,416.7 693.2,418.2 700.2,420.0 707.1,422.1 716.0,424.2 722.9,425.5 729.9,427.5 736.8,429.2 758.8,429.2 766.9,428.3 773.9,427.2 780.8,425.5 787.8,423.5 794.7,420.9 801.6,418.2 808.6,415.4 815.5,413.3 820.0,412.5 824.6,410.7 829.3,409.0 835.0,407.3 842.0,405.9 848.9,404.4 855.9,403.5 887.1,403.5 888.3,402.4 908.0,402.4" fill="none" stroke="#ff0000" stroke-width="1" shape-rendering="crispEdges"/></g>
<text x="8" y="388" style="font-family:'DejaVu Sans Condensed', 'DejaVu Sans', sans-serif;font-size:9.25px" fill="#000">MACD(12,26,9) 0.002025 0.001833</text>
<text x="1154" y="386" style="font-family:'DejaVu Sans Condensed', 'DejaVu Sans', sans-serif;font-size:9.25px" fill="#000">0.009345</text>
<text x="1154" y="412" style="font-family:'DejaVu Sans Condensed', 'DejaVu Sans', sans-serif;font-size:9.25px" fill="#000">0.00</text>
<text x="1154" y="436" style="font-family:'DejaVu Sans Condensed', 'DejaVu Sans', sans-serif;font-size:9.25px" fill="#000">-0.008902</text>
<rect x="1151" y="377" width="2" height="1" fill="#000" shape-rendering="crispEdges"/>
<rect x="1151" y="408" width="2" height="1" fill="#000" shape-rendering="crispEdges"/>
<rect x="1151" y="438" width="2" height="1" fill="#000" shape-rendering="crispEdges"/>
<rect x="1151" y="443" width="2" height="1" fill="#000" shape-rendering="crispEdges"/>
<rect x="1151" y="506" width="1" height="1" fill="#000" shape-rendering="crispEdges"/>
<g shape-rendering="crispEdges">
<line x1="5" y1="462.5" x2="1150" y2="462.5" stroke="#c0c0c0" stroke-width="1" stroke-dasharray="3,3"/>
<line x1="5" y1="487.5" x2="1150" y2="487.5" stroke="#c0c0c0" stroke-width="1" stroke-dasharray="3,3"/>
</g>
<g clip-path="url(#cr)"><polyline points="3.8,479.2 7.6,480.4 12.6,481.4 17.0,483.7 20.8,485.5 25.2,484.2 27.1,483.5 46.6,483.5 50.4,484.5 55.4,486.0 59.2,488.0 63.0,488.5 65.5,487.5 80.6,487.5 81.9,488.5 94.5,488.5 95.7,489.6 99.5,490.5 103.3,488.4 108.3,485.5 119.6,485.5 120.9,484.6 127.2,483.7 136.0,482.5 142.3,482.5 144.8,483.5 150.0,484.3 152.5,484.6 154.4,485.5 157.6,485.5 161.3,483.3 163.9,482.3 167.6,482.3 168.9,481.4 180.2,481.4 184.0,479.2 187.8,477.4 191.6,478.4 196.0,480.8 200.4,476.7 204.8,473.4 208.6,472.4 216.1,472.4 218.0,473.4 224.3,473.4 225.6,474.4 232.5,474.4 235.0,475.4 236.9,475.2 243.2,471.4 248.9,466.3 252.6,463.2 255.8,464.8 260.2,467.3 269.0,467.3 272.2,468.4 275.9,470.4 279.7,468.6 283.5,467.3 287.3,466.3 289.8,466.1 291.1,465.3 300.0,465.5 302.5,464.5 305.7,462.8 308.8,462.3 312.0,462.6 313.9,463.4 317.6,463.4 320.8,462.1 323.3,461.3 326.4,462.1 329.6,463.4 331.5,464.4 336.5,464.4 338.4,465.4 348.5,465.4 351.6,463.2 354.2,461.1 356.7,459.4 359.2,461.1 361.7,463.2 364.2,465.4 368.0,464.5 375.6,464.5 377.5,463.4 381.9,463.4 383.8,462.3 386.9,461.6 399.5,461.6 401.4,460.7 406.4,460.7 409.6,461.6 413.4,463.2 418.4,466.1 422.2,468.9 425.9,473.3 428.5,476.4 431.6,476.2 436.6,475.6 439.8,473.9 443.6,472.7 447.4,472.2 450.0,471.4 460.1,471.4 462.6,470.2 466.4,468.3 470.2,467.0 473.3,465.4 475.8,464.5 479.0,464.9 482.7,465.7 486.5,467.4 489.7,468.9 492.6,470.2 496.0,468.3 499.7,466.4 503.5,466.4 504.8,465.4 511.7,465.4 513.0,464.5 520.5,464.5 522.4,465.4 525.6,465.9 529.3,468.3 532.5,470.2 536.3,470.4 538.2,471.4 544.5,471.4 545.7,472.4 558.3,472.4 559.6,473.4 564.6,474.6 567.1,473.4 570.3,472.4 573.4,472.4 575.9,473.4 579.7,475.2 582.2,475.6 584.1,476.4 586.6,476.7 589.8,478.0 592.9,479.7 596.1,482.1 600.0,482.0 604.4,481.4 607.6,479.2 610.7,476.4 613.2,475.4 616.4,476.4 620.2,478.4 623.9,476.4 627.7,474.5 630.9,474.5 632.7,475.4 635.9,476.4 640.3,478.4 644.1,480.4 655.4,480.4 656.7,479.6 661.7,479.6 665.5,481.2 668.6,482.7 673.0,484.0 675.6,485.5 684.4,485.5 688.2,483.5 691.9,481.4 696.3,481.4 698.2,482.5 704.5,482.5 705.8,483.5 712.1,483.5 714.0,484.5 719.0,484.5 720.9,483.5 732.2,483.5 735.4,481.4 740.4,478.4 744.2,478.4 746.1,479.4 748.6,479.4 750.0,478.5 752.7,476.2 756.0,474.5 760.8,474.5 762.1,475.4 765.5,475.4 767.5,474.1 771.5,472.5 774.9,470.9 778.9,468.7 782.3,467.5 785.6,467.5 787.0,466.4 790.3,466.4 791.7,467.5 794.4,467.5 796.4,468.4 800.4,469.5 803.8,471.4 807.1,472.2 811.2,473.4 828.0,473.4 830.6,471.8 835.3,469.4 844.8,469.4 848.1,471.8 852.8,475.4 854.8,474.5 858.2,473.4 864.2,473.4 866.3,474.5 869.6,474.5 872.3,472.5 875.7,471.4 888.4,471.4 889.8,472.3 903.9,472.3 905.2,471.4 907.9,471.4" fill="none" stroke="#1e90ff" stroke-width="1" shape-rendering="crispEdges"/></g>
<text x="8" y="454" style="font-family:'DejaVu Sans Condensed', 'DejaVu Sans', sans-serif;font-size:9.25px" fill="#000">RSI(14) 55.2961</text>
<text x="1154" y="452" style="font-family:'DejaVu Sans Condensed', 'DejaVu Sans', sans-serif;font-size:9.25px" fill="#000">100</text>
<text x="1154" y="466" style="font-family:'DejaVu Sans Condensed', 'DejaVu Sans', sans-serif;font-size:9.25px" fill="#000">70</text>
<text x="1154" y="491" style="font-family:'DejaVu Sans Condensed', 'DejaVu Sans', sans-serif;font-size:9.25px" fill="#000">30</text>
<text x="1154" y="504" style="font-family:'DejaVu Sans Condensed', 'DejaVu Sans', sans-serif;font-size:9.25px" fill="#000">0</text>
<g shape-rendering="crispEdges" fill="#000">
<rect x="4" y="508" width="1" height="3"/>
<rect x="68" y="508" width="1" height="3"/>
<rect x="132" y="508" width="1" height="3"/>
<rect x="196" y="508" width="1" height="3"/>
<rect x="260" y="508" width="1" height="3"/>
<rect x="324" y="508" width="1" height="3"/>
<rect x="388" y="508" width="1" height="3"/>
<rect x="452" y="508" width="1" height="3"/>
<rect x="516" y="508" width="1" height="3"/>
<rect x="580" y="508" width="1" height="3"/>
<rect x="644" y="508" width="1" height="3"/>
<rect x="708" y="508" width="1" height="3"/>
<rect x="772" y="508" width="1" height="3"/>
<rect x="836" y="508" width="1" height="3"/>
<rect x="900" y="508" width="1" height="3"/>
</g>
<text x="3" y="520" style="font-family:'DejaVu Sans Condensed', 'DejaVu Sans', sans-serif;font-size:9.25px" fill="#000">6 Oct 2021</text>
<text x="67" y="520" style="font-family:'DejaVu Sans Condensed', 'DejaVu Sans', sans-serif;font-size:9.25px" fill="#000">15 Oct 2021</text>
<text x="131" y="520" style="font-family:'DejaVu Sans Condensed', 'DejaVu Sans', sans-serif;font-size:9.25px" fill="#000">25 Oct 2021</text>
<text x="195" y="520" style="font-family:'DejaVu Sans Condensed', 'DejaVu Sans', sans-serif;font-size:9.25px" fill="#000">3 Nov 2021</text>
<text x="259" y="520" style="font-family:'DejaVu Sans Condensed', 'DejaVu Sans', sans-serif;font-size:9.25px" fill="#000">12 Nov 2021</text>
<text x="323" y="520" style="font-family:'DejaVu Sans Condensed', 'DejaVu Sans', sans-serif;font-size:9.25px" fill="#000">22 Nov 2021</text>
<text x="387" y="520" style="font-family:'DejaVu Sans Condensed', 'DejaVu Sans', sans-serif;font-size:9.25px" fill="#000">1 Dec 2021</text>
<text x="451" y="520" style="font-family:'DejaVu Sans Condensed', 'DejaVu Sans', sans-serif;font-size:9.25px" fill="#000">10 Dec 2021</text>
<text x="515" y="520" style="font-family:'DejaVu Sans Condensed', 'DejaVu Sans', sans-serif;font-size:9.25px" fill="#000">20 Dec 2021</text>
<text x="579" y="520" style="font-family:'DejaVu Sans Condensed', 'DejaVu Sans', sans-serif;font-size:9.25px" fill="#000">29 Dec 2021</text>
<text x="643" y="520" style="font-family:'DejaVu Sans Condensed', 'DejaVu Sans', sans-serif;font-size:9.25px" fill="#000">7 Jan 2022</text>
<text x="707" y="520" style="font-family:'DejaVu Sans Condensed', 'DejaVu Sans', sans-serif;font-size:9.25px" fill="#000">17 Jan 2022</text>
<text x="771" y="520" style="font-family:'DejaVu Sans Condensed', 'DejaVu Sans', sans-serif;font-size:9.25px" fill="#000">26 Jan 2022</text>
<text x="835" y="520" style="font-family:'DejaVu Sans Condensed', 'DejaVu Sans', sans-serif;font-size:9.25px" fill="#000">4 Feb 2022</text>
<text x="899" y="520" style="font-family:'DejaVu Sans Condensed', 'DejaVu Sans', sans-serif;font-size:9.25px" fill="#000">14 Feb 2022</text>
<g fill="#000" shape-rendering="crispEdges"><rect x="7" y="30" width="7" height="1"/><rect x="8" y="31" width="5" height="1"/><rect x="9" y="32" width="3" height="1"/><rect x="10" y="33" width="1" height="1"/></g>
<text x="19" y="35" style="font-family:'DejaVu Sans', sans-serif;font-size:9.25px" fill="#000">USDCAD-,Daily</text>
<text x="94" y="35" style="font-family:'DejaVu Sans Condensed', 'DejaVu Sans', sans-serif;font-size:9px" fill="#000">1.27272 1.27387 1.27228 1.27363</text>
</svg>
</body></html>
